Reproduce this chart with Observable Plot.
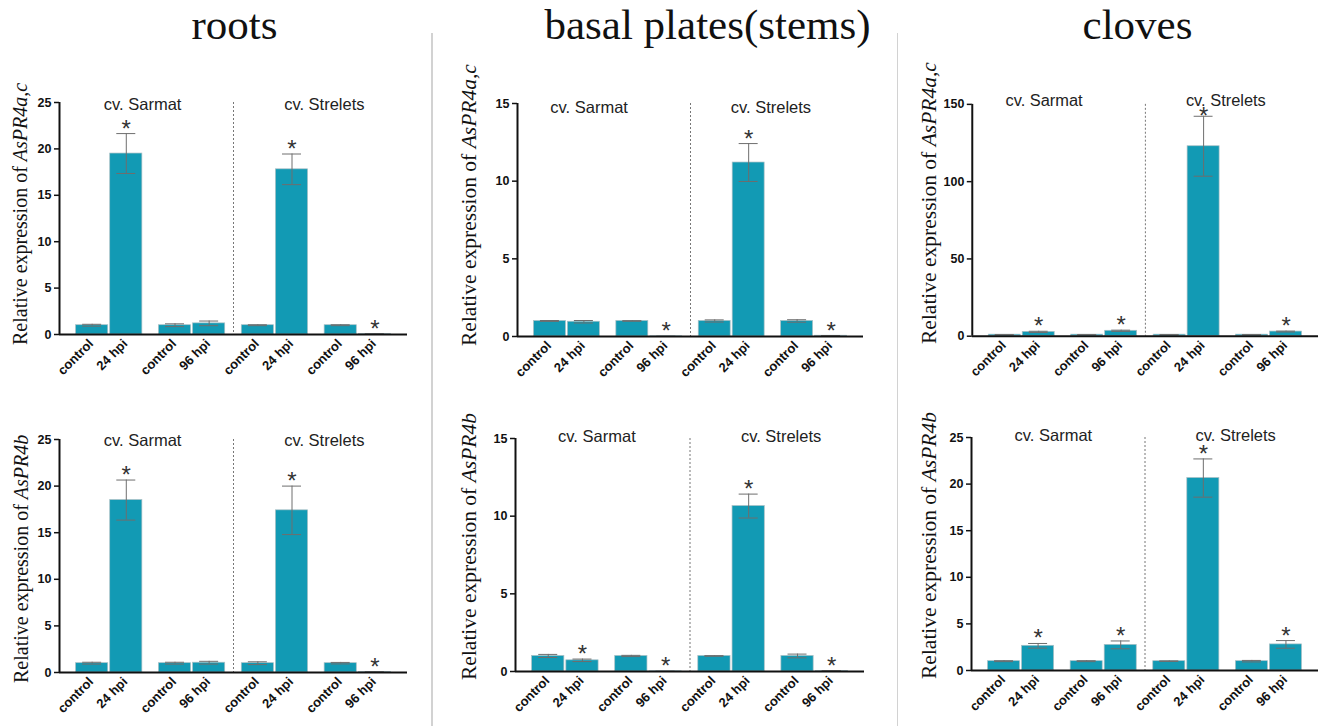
<!DOCTYPE html>
<html><head><meta charset="utf-8">
<script src="https://cdn.jsdelivr.net/npm/d3@7"></script>
<script src="https://cdn.jsdelivr.net/npm/@observablehq/plot@0.6"></script>
<style>
html,body{margin:0;padding:0;background:#fff;}
#page{position:relative;width:1324px;height:726px;overflow:hidden;background:#fff;}
.title{position:absolute;font-family:"Liberation Serif","Times New Roman",serif;font-size:43px;color:#111;white-space:nowrap;transform:translateX(-50%);line-height:1;}
.ylab{position:absolute;font-family:"Liberation Serif","Times New Roman",serif;white-space:nowrap;transform-origin:0 0;transform:rotate(-90deg);line-height:1;color:#111;}
.sep{position:absolute;width:1.5px;background:#d2d2d2;}
.panel{position:absolute;}
.panel svg{overflow:visible;}
</style></head><body><div id="page"></div>
<script>
// ---------- data ----------
const tissues = ["roots", "basal plates(stems)", "cloves"];
const genes = ["AsPR4a,c", "AsPR4b"];
const cultivars = ["cv. Sarmat", "cv. Strelets"];
const pairKeys = ["Sarmat 24 hpi", "Sarmat 96 hpi", "Strelets 24 hpi", "Strelets 96 hpi"];
const barLabels = ["control", "24 hpi", "control", "96 hpi", "control", "24 hpi", "control", "96 hpi"];

const rootsTicks = [0, 5, 10, 15, 20, 25];
const basalTicks = [0, 5, 10, 15];
const clovesACTicks = [0, 50, 100, 150];
const clovesBTicks = [0, 5, 10, 15, 20, 25];

// roots, AsPR4a,c
const rootsACMean = [1.0, 19.5, 1.0, 1.2, 1.0, 17.8, 1.0, 0.05];
const rootsACErr  = [0.1, 2.15, 0.15, 0.25, 0.05, 1.65, 0.05, 0.02];
const rootsACSig  = [0, 1, 0, 0, 0, 1, 0, 1];
// basal plates, AsPR4a,c
const basalACMean = [1.0, 0.95, 1.0, 0.01, 1.0, 11.2, 1.0, 0.05];
const basalACErr  = [0.03, 0.08, 0.02, 0.0, 0.07, 1.22, 0.08, 0.01];
const basalACSig  = [0, 0, 0, 1, 0, 1, 0, 1];
// cloves, AsPR4a,c
const clovesACMean = [1.0, 2.8, 1.0, 3.5, 1.0, 122.9, 1.0, 3.0];
const clovesACErr  = [0.1, 0.4, 0.1, 0.4, 0.1, 19.4, 0.1, 0.3];
const clovesACSig  = [0, 1, 0, 1, 0, 1, 0, 1];
// roots, AsPR4b
const rootsBMean = [1.0, 18.5, 1.0, 1.05, 1.0, 17.4, 1.0, 0.05];
const rootsBErr  = [0.1, 2.15, 0.1, 0.15, 0.15, 2.6, 0.08, 0.02];
const rootsBSig  = [0, 1, 0, 0, 0, 1, 0, 1];
// basal plates, AsPR4b
const basalBMean = [1.0, 0.72, 1.0, 0.01, 1.0, 10.65, 1.0, 0.04];
const basalBErr  = [0.1, 0.08, 0.04, 0.0, 0.02, 0.77, 0.12, 0.01];
const basalBSig  = [0, 1, 0, 1, 0, 1, 0, 1];
// cloves, AsPR4b
const clovesBMean = [1.0, 2.65, 1.0, 2.75, 1.0, 20.65, 1.0, 2.8];
const clovesBErr  = [0.05, 0.25, 0.05, 0.42, 0.03, 2.05, 0.08, 0.41];
const clovesBSig  = [0, 1, 0, 1, 0, 1, 0, 1];

// ---------- layout (styles / positions) ----------
const BAR = "#129ab4";
const panels = [
  {gene: 0, tissue: 0, mean: rootsACMean, err: rootsACErr, sig: rootsACSig, ticks: rootsTicks,
   axisX: 59, yTop: 102, y0: 334, xEnd: 407, cvDx: [-8, 8], cvDy: 2, labX: 20, labBottom: 345, labSize: 20},
  {gene: 0, tissue: 1, mean: basalACMean, err: basalACErr, sig: basalACSig, ticks: basalTicks,
   axisX: 517, yTop: 103, y0: 336, xEnd: 863, cvDx: [-19, -2], cvDy: 4, labX: 469.5, labBottom: 346, labSize: 21.5},
  {gene: 0, tissue: 2, mean: clovesACMean, err: clovesACErr, sig: clovesACSig, ticks: clovesACTicks,
   axisX: 972, yTop: 104, y0: 337, xEnd: 1320, cvDx: [-19, -2], cvDy: -4, labX: 930, labBottom: 344, labSize: 21.5},
  {gene: 1, tissue: 0, mean: rootsBMean, err: rootsBErr, sig: rootsBSig, ticks: rootsTicks,
   axisX: 59, yTop: 439, y0: 672, xEnd: 407, cvDx: [-8, 8], cvDy: 1.5, labX: 20.5, labBottom: 683, labSize: 20},
  {gene: 1, tissue: 1, mean: basalBMean, err: basalBErr, sig: basalBSig, ticks: basalTicks,
   axisX: 515, yTop: 438, y0: 671, xEnd: 864, cvDx: [-10, 8], cvDy: -2, labX: 470, labBottom: 680, labSize: 21.5},
  {gene: 1, tissue: 2, mean: clovesBMean, err: clovesBErr, sig: clovesBSig, ticks: clovesBTicks,
   axisX: 971, yTop: 437, y0: 670, xEnd: 1318, cvDx: [-9, 8], cvDy: -2, labX: 930, labBottom: 679, labSize: 21.5}
];

const page = document.getElementById("page");

// titles
const titleX = [234.5, 707.5, 1137.5];
tissues.forEach((t, i) => {
  const d = document.createElement("div");
  d.className = "title";
  d.textContent = t;
  d.style.left = titleX[i] + "px";
  d.style.top = "3px";
  page.appendChild(d);
});
// column separators
[431, 896.5].forEach(x => {
  const s = document.createElement("div");
  s.className = "sep";
  s.style.left = x + "px";
  s.style.top = "33px";
  s.style.height = "700px";
  page.appendChild(s);
});

function buildPanel(cfg) {
  const mL = 45, mR = 6, mT = 26, mB = 62;
  const W = cfg.xEnd - cfg.axisX, H = cfg.y0 - cfg.yTop;
  const pi = 0.2, po = 0.2;
  const step = W / (pairKeys.length - pi + 2 * po);
  const bw = step * (1 - pi);
  const q = bw / 4 + 0.5;      // offset of bar centre from pair centre
  const h = 9.5;               // half width of error caps
  const ymax = cfg.ticks[cfg.ticks.length - 1];
  const px = ymax / H;         // data units per pixel
  const data = barLabels.map((label, i) => ({
    pair: pairKeys[Math.floor(i / 2)], label, role: i % 2 ? "hpi" : "control",
    value: cfg.mean[i], err: cfg.err[i], sig: cfg.sig[i]
  }));
  const ctrl = data.filter(d => d.role === "control");
  const hpi = data.filter(d => d.role === "hpi");
  const errStroke = "#6e6e6e";
  const capC = {insetLeft: bw / 4 - 0.5 - h, insetRight: 3 * bw / 4 + 0.5 - h};
  const capH = {insetLeft: 3 * bw / 4 + 0.5 - h, insetRight: bw / 4 - 0.5 - h};
  // asterisk centre: 8px above the error bar, but kept clear of the cultivar label
  const starY = d => Math.min(d.value + d.err + 8 * px, ymax - 9 * px);

  const marks = [
    Plot.barY(ctrl, {x: "pair", y: "value", insetRight: bw / 2 + 1, fill: BAR, stroke: "#a9bfc4", strokeWidth: 0.7}),
    Plot.barY(hpi, {x: "pair", y: "value", insetLeft: bw / 2 + 1, fill: BAR, stroke: "#a9bfc4", strokeWidth: 0.7}),
    Plot.ruleX(ctrl, {x: "pair", y1: d => d.value - d.err, y2: d => d.value + d.err, dx: -q, stroke: errStroke, strokeWidth: 1}),
    Plot.ruleX(hpi, {x: "pair", y1: d => d.value - d.err, y2: d => d.value + d.err, dx: q, stroke: errStroke, strokeWidth: 1}),
    Plot.tickY(ctrl, {x: "pair", y: d => d.value + d.err, ...capC, stroke: errStroke, strokeWidth: 1}),
    Plot.tickY(ctrl, {x: "pair", y: d => Math.max(0, d.value - d.err), ...capC, stroke: errStroke, strokeWidth: 1}),
    Plot.tickY(hpi, {x: "pair", y: d => d.value + d.err, ...capH, stroke: errStroke, strokeWidth: 1}),
    Plot.tickY(hpi, {x: "pair", y: d => Math.max(0, d.value - d.err), ...capH, stroke: errStroke, strokeWidth: 1}),
    Plot.ruleX([pairKeys[2]], {dx: -0.5 * step, stroke: "#777", strokeWidth: 1, strokeDasharray: "2,2"}),
    Plot.ruleY([0], {stroke: "#111", strokeWidth: 2}),
    Plot.ruleX([pairKeys[0]], {dx: -(po + (1 - pi) / 2) * step, stroke: "#111", strokeWidth: 2}),
    Plot.axisY(cfg.ticks, {tickSize: 5, tickPadding: 3, fontWeight: "bold", fontSize: 12.5, strokeWidth: 1.5, label: null}),
    Plot.text([cultivars[0]], {x: () => pairKeys[1], text: d => d, frameAnchor: "top", lineAnchor: "middle", dx: -0.5 * step + cfg.cvDx[0], dy: cfg.cvDy, fontSize: 16.5, fill: "#222"}),
    Plot.text([cultivars[1]], {x: () => pairKeys[3], text: d => d, frameAnchor: "top", lineAnchor: "middle", dx: -0.5 * step + cfg.cvDx[1], dy: cfg.cvDy, fontSize: 16.5, fill: "#222"}),
    Plot.text(ctrl.filter(d => d.sig), {x: "pair", y: starY, text: () => "*", dx: -q, dy: 11, lineAnchor: "bottom", fontSize: 24, fill: "#333"}),
    Plot.text(hpi.filter(d => d.sig), {x: "pair", y: starY, text: () => "*", dx: q, dy: 11, lineAnchor: "bottom", fontSize: 24, fill: "#333"}),
    Plot.text(ctrl, {x: "pair", text: "label", frameAnchor: "bottom", lineAnchor: "bottom", dx: -q + 2, dy: 10, rotate: -45, textAnchor: "end", fontWeight: "bold", fontSize: 13, fill: "#111"}),
    Plot.text(hpi, {x: "pair", text: "label", frameAnchor: "bottom", lineAnchor: "bottom", dx: q + 2, dy: 10, rotate: -45, textAnchor: "end", fontWeight: "bold", fontSize: 13, fill: "#111"})
  ];

  const chart = Plot.plot({
    width: mL + W + mR, height: mT + H + mB,
    marginLeft: mL, marginRight: mR, marginTop: mT, marginBottom: mB,
    x: {type: "band", domain: pairKeys, paddingInner: pi, paddingOuter: po, round: false, axis: null},
    y: {domain: [0, ymax], axis: null},
    style: {fontFamily: "'Liberation Sans', Arial, sans-serif", color: "#111", background: "transparent", overflow: "visible"},
    marks
  });
  const wrap = document.createElement("div");
  wrap.className = "panel";
  wrap.style.left = (cfg.axisX - mL) + "px";
  wrap.style.top = (cfg.yTop - mT) + "px";
  wrap.appendChild(chart);
  page.appendChild(wrap);

  const lab = document.createElement("div");
  lab.className = "ylab";
  lab.style.fontSize = cfg.labSize + "px";
  lab.style.fontFamily = "'Liberation Serif', 'Times New Roman', serif";
  lab.style.left = (cfg.labX - cfg.labSize / 2) + "px";
  lab.style.top = cfg.labBottom + "px";
  lab.innerHTML = "Relative expression of <i>" + genes[cfg.gene] + "</i>";
  page.appendChild(lab);
}
panels.forEach(buildPanel);
</script></body></html>
